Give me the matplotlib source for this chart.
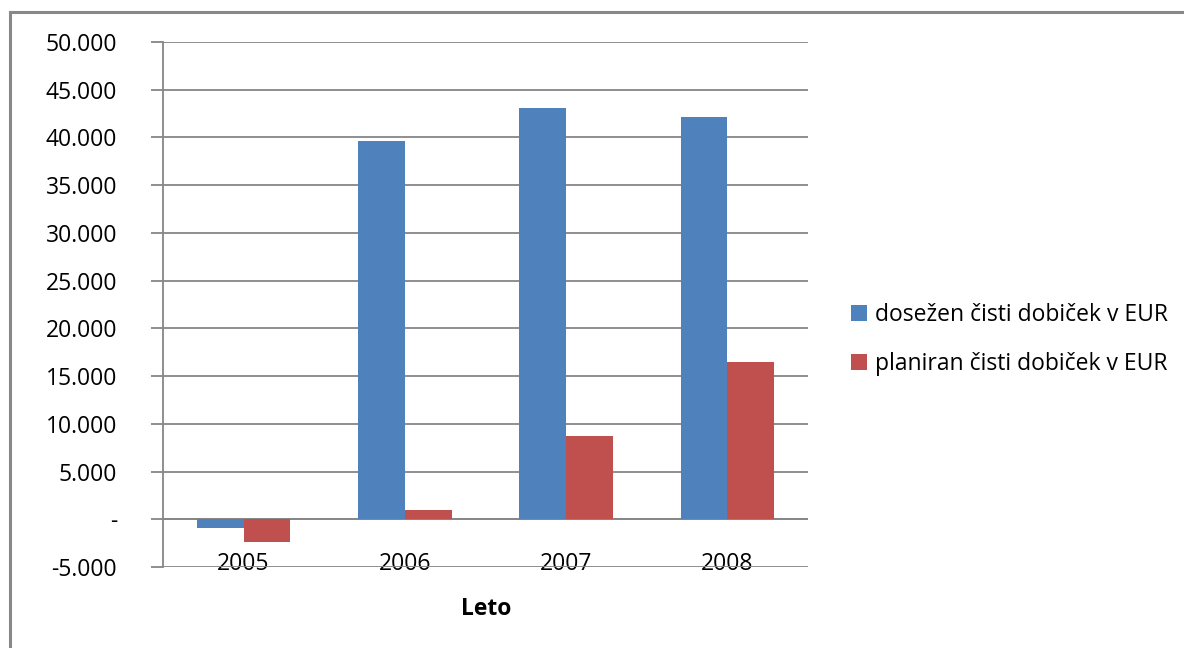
import matplotlib
matplotlib.use('Agg')
import matplotlib.pyplot as plt
from matplotlib.lines import Line2D
import numpy as np

years = ['2005', '2006', '2007', '2008']
dosezen = [-880, 39600, 43100, 42100]
planiran = [-2350, 970, 8700, 16450]
yticks = [-5000, 0, 5000, 10000, 15000, 20000, 25000, 30000, 35000, 40000, 45000, 50000]

def fmt(v):
    if v == 0:
        return '-'
    return '{:,}'.format(v).replace(',', '.')

plt.rcParams['font.family'] = ['Open Sans', 'DejaVu Sans']
fs = 16.5

fig = plt.figure(figsize=(11.84, 6.48), dpi=100)
ax = fig.add_axes([163/1184, 1-567/648, 645/1184, 525/648])

x = np.arange(len(years))
w = 0.29
ax.bar(x - w/2, dosezen, w, color='#4F81BD', label='dosežen čisti dobiček v EUR', zorder=3)
ax.bar(x + w/2, planiran, w, color='#C0504D', label='planiran čisti dobiček v EUR', zorder=3)

ax.set_xlim(-0.5, len(years) - 0.5)
ax.set_ylim(-5000, 50000)
ax.set_yticks(yticks)
ax.set_yticklabels([fmt(v) for v in yticks], fontsize=fs)
ax.yaxis.grid(True, color='#868686', linewidth=1.3, zorder=0)
ax.tick_params(axis='y', length=9, color='#868686', width=1.3, pad=24)
ax.axhline(0, color='#868686', linewidth=1.3, zorder=2)

ax.set_xticks(x)
ax.set_xticklabels(years, fontsize=fs)
ax.tick_params(axis='x', length=0, pad=-11)

for s in ['top', 'right', 'bottom']:
    ax.spines[s].set_visible(False)
ax.spines['left'].set_color('#868686')
ax.spines['left'].set_linewidth(1.3)

fig.text(486/1184, 1-609/648, 'Leto', ha='center', va='center', fontsize=fs, fontweight='bold')

fig.legend(loc='upper left', bbox_to_anchor=(830/1184, 1-282/648), frameon=False,
           fontsize=fs, handlelength=0.7, handleheight=0.7, handletextpad=0.35,
           labelspacing=1.1)

# outer frame
fig.add_artist(Line2D([10/1184, 10/1184], [0, 1-12/648], transform=fig.transFigure,
                      color='#888888', linewidth=2.2))
fig.add_artist(Line2D([10/1184, 1], [1-12/648, 1-12/648], transform=fig.transFigure,
                      color='#888888', linewidth=2.2))

fig.savefig('out.png', dpi=100)
